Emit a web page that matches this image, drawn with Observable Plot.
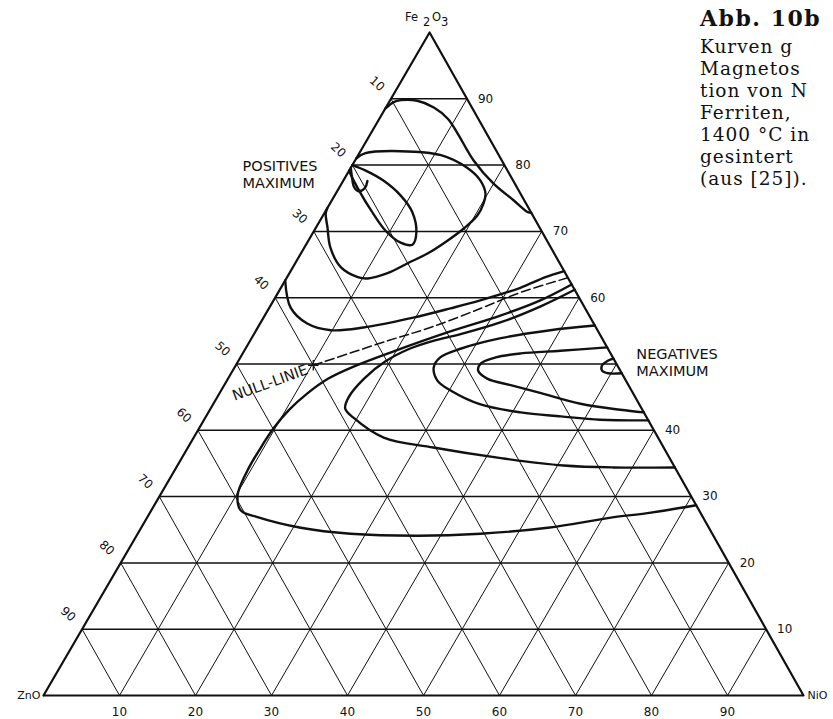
<!DOCTYPE html>
<html>
<head>
<meta charset="utf-8">
<script src="https://cdn.jsdelivr.net/npm/d3@7"></script>
<script src="https://cdn.jsdelivr.net/npm/@observablehq/plot@0.6"></script>
<style>
  body { margin: 0; background: #fff; }
  #wrap { position: relative; width: 833px; height: 719px; overflow: hidden; background: #fff; }
  #caption {
    position: absolute; left: 700px; top: 4px;
    font-family: "DejaVu Serif", "Liberation Serif", serif;
    font-size: 18.5px; line-height: 22px; letter-spacing: 1px; color: #111; white-space: nowrap;
  }
  #caption .head { font-weight: bold; font-size: 22px; line-height: 29px; letter-spacing: 1.5px; margin-bottom: 3px; }
</style>
</head>
<body>
<div id="wrap">
  <div id="chart"></div>
  <div id="caption"><div class="head">Abb. 10b</div>Kurven g<br>Magnetos<br>tion von N<br>Ferriten,<br>1400 °C in<br>gesintert<br>(aus [25]).</div>
</div>
<script>
// Ternary diagram ZnO – NiO – Fe2O3; every point is [NiO %, Fe2O3 %], ZnO is the remainder.
const ticks = [10, 20, 30, 40, 50, 60, 70, 80, 90];
// the right-hand Fe2O3 scale leaves out 50, where the negative maximum is labelled
const rightTicks = [10, 20, 30, 40, 60, 70, 80, 90];

// Contours of equal magnetostriction
const outerArc = [[0,88.5],[0.6,89.5],[1.4,89.8],[3.6,89.7],[6.3,88.7],[9,87],[11.4,84.8],[15.6,80.7],[20,77.2],[23.9,74.7],[26.7,72.9],[27.2,72.8]];
const upperLoop = [[0,81],[0.8,81.8],[5.3,82.1],[10.9,81.5],[15.3,79.6],[18,77.7],[19.7,75.7],[20.2,74.2],[20.3,72.4],[19.5,70.4],[18.3,68.6],[16.7,66.7],[14.8,65.2],[12.9,63.7],[10.7,62.9],[9.3,63.1],[6.3,64.6],[3.4,67.6],[1.5,70.6],[0.2,72.7],[0,73.5]];
const innerEllipse = [[0,79.2],[0.4,78.7],[2.8,76.2],[5.9,73.2],[9.4,70.1],[12.3,68.3],[14,68],[13.6,69.8],[11.5,72.9],[8.7,75.4],[5.2,77.7],[2.1,79.2],[0,80]];
const positiveMax = [[0,79.6],[0.8,78.3],[1.9,76.7],[2.85,76.05],[3.4,76.6],[3.2,77.6]];
const upperBand = [[0,62.6],[2.8,58.5],[6.2,56.1],[9.8,55.1],[13.9,55.5],[19.7,57],[23.9,58.4],[27.2,59.6],[31.5,61.5],[34,63.1],[36,64]];
const nullLine = [[10.2,49.8],[18.1,53.5],[22.7,55.5],[27.9,58.4],[31.9,60.8],[37,63]];
const outerC = [[71.3,28.7],[65.5,27.5],[61.4,26.9],[53.5,25.3],[45.1,24.4],[37,24.1],[28,24.4],[21,25.3],[14.5,26.9],[11.8,27.9],[10.2,30.2],[9.6,33.9],[9.6,37.4],[9.8,40.3],[10.4,43],[11.6,45.6],[13.2,47.8],[15.6,49.6],[19.5,51.8],[25.4,54.8],[31,57.3],[35.1,59.6],[38,62]];
const middleC = [[38.8,61.2],[35.6,58.7],[31.6,56.3],[27.2,54.5],[24.1,53.5],[21.6,52.3],[19.4,50.4],[17.9,47.8],[17.3,45],[17.7,43.3],[19.5,41.9],[25,38.9],[32.3,37.4],[42,35.8],[50.8,34.7],[57.5,34.4],[65.6,34.4]];
const loopG = [[44.2,55.8],[38.7,55.1],[32.8,53.9],[28.3,52.3],[26.3,51],[26.2,49.5],[27.7,47.5],[30.2,46],[35.2,43.9],[41.1,42.7],[46.7,42.1],[52.1,41.6],[58.5,41.5]];
const loopH = [[47.5,52.5],[41.6,52],[36.6,51.6],[33.6,51],[32.1,50.1],[32.3,49],[34.1,47.8],[37.7,46.8],[42.3,45.6],[48.3,44],[54,43.1],[57.3,42.7]];
const negativeMax = [[49.2,50.8],[48.6,50.5],[48.2,49.8],[48.6,49],[49.6,48.6],[51.4,48.6]];

const contours = [outerArc, upperLoop, innerEllipse, positiveMax, upperBand, outerC, middleC, loopG, loopH, negativeMax];

// Cartesian position inside the triangle (the apex sits slightly right of centre)
const apexShift = 0.508;
const px = ([n, f]) => n + f * apexShift;
const py = ([n, f]) => f;

const contourPts = contours.flatMap((c, i) => c.map(p => ({p, id: i})));

// grid lines: constant Fe2O3, constant NiO, constant ZnO
const hGrid = ticks.map(t => ({a: [0, t], b: [100 - t, t]}));
const dGrid = ticks.flatMap(t => [
  {a: [t, 0], b: [t, 100 - t]},
  {a: [100 - t, 0], b: [0, 100 - t]}
]);
const frame = [[0, 0], [100, 0], [0, 100], [0, 0]];

const seg = (data, opts) => Plot.link(data, {
  x1: d => px(d.a), y1: d => py(d.a), x2: d => px(d.b), y2: d => py(d.b),
  stroke: "#111", ...opts
});

const lab = {fontFamily: "DejaVu Sans, sans-serif", fontSize: 12, fill: "#111"};
const note = {...lab, fontSize: 14.5};
const apex = [0, 100];
const posAnchor = [0, 79];
const negAnchor = [50.2, 49.8];

const chart = Plot.plot({
  width: 833,
  height: 719,
  margin: 0,
  x: {domain: [0, 100], range: [43, 803], axis: null},
  y: {domain: [0, 100], range: [695, 32], axis: null},
  style: {background: "white", fontFamily: "DejaVu Sans, sans-serif"},
  marks: [
    seg(dGrid, {strokeWidth: 1}),
    seg(hGrid, {strokeWidth: 1.5}),
    Plot.line(frame, {x: px, y: py, stroke: "#111", strokeWidth: 2.2}),
    Plot.line(contourPts, {x: d => px(d.p), y: d => py(d.p), z: "id", curve: "catmull-rom", stroke: "#111", strokeWidth: 2.4}),
    Plot.line(nullLine, {x: px, y: py, curve: "catmull-rom", stroke: "#111", strokeWidth: 1.5, strokeDasharray: "9,4"}),
    Plot.dot([nullLine[0]], {x: px, y: py, symbol: "plus", r: 3.5, stroke: "#111", strokeWidth: 1.3}),
    // scale labels: NiO along the base, Fe2O3 on the right, ZnO on the left
    Plot.text(ticks, {x: t => t, y: 0, dy: 17, text: d => String(d), ...lab}),
    Plot.text(rightTicks, {x: t => px([100 - t, t]), y: t => t, dx: 11, textAnchor: "start", text: d => String(d), ...lab}),
    Plot.text(ticks, {x: t => px([0, 100 - t]), y: t => 100 - t, dx: -14, dy: -15, rotate: 42, text: d => String(d), ...lab}),
    // corner labels
    Plot.text(["ZnO"], {x: 0, y: 0, dx: -3, textAnchor: "end", text: d => d, ...lab, fontSize: 11}),
    Plot.text(["NiO"], {x: 100, y: 0, dx: 4, textAnchor: "start", text: d => d, ...lab, fontSize: 11}),
    Plot.text(["Fe"], {x: px(apex), y: 100, dx: -18, dy: -15, text: d => d, ...lab, fontSize: 11.5}),
    Plot.text(["2"], {x: px(apex), y: 100, dx: -3, dy: -10, text: d => d, ...lab, fontSize: 11.5}),
    Plot.text(["O"], {x: px(apex), y: 100, dx: 7, dy: -15, text: d => d, ...lab, fontSize: 11.5}),
    Plot.text(["3"], {x: px(apex), y: 100, dx: 15, dy: -10, text: d => d, ...lab, fontSize: 11.5}),
    // annotations
    Plot.text(["POSITIVES"], {x: px(posAnchor), y: posAnchor[1], dx: -106, dy: -5, textAnchor: "start", text: d => d, ...note}),
    Plot.text(["MAXIMUM"], {x: px(posAnchor), y: posAnchor[1], dx: -106, dy: 12, textAnchor: "start", text: d => d, ...note}),
    Plot.text(["NULL-LINIE"], {x: px(nullLine[0]), y: nullLine[0][1], dx: -6, dy: 4, rotate: -20, textAnchor: "end", text: d => d, ...note}),
    Plot.text(["NEGATIVES"], {x: px(negAnchor), y: negAnchor[1], dx: 19, dy: -11, textAnchor: "start", text: d => d, ...note}),
    Plot.text(["MAXIMUM"], {x: px(negAnchor), y: negAnchor[1], dx: 19, dy: 6, textAnchor: "start", text: d => d, ...note})
  ]
});
document.getElementById("chart").append(chart);
</script>
</body>
</html>
